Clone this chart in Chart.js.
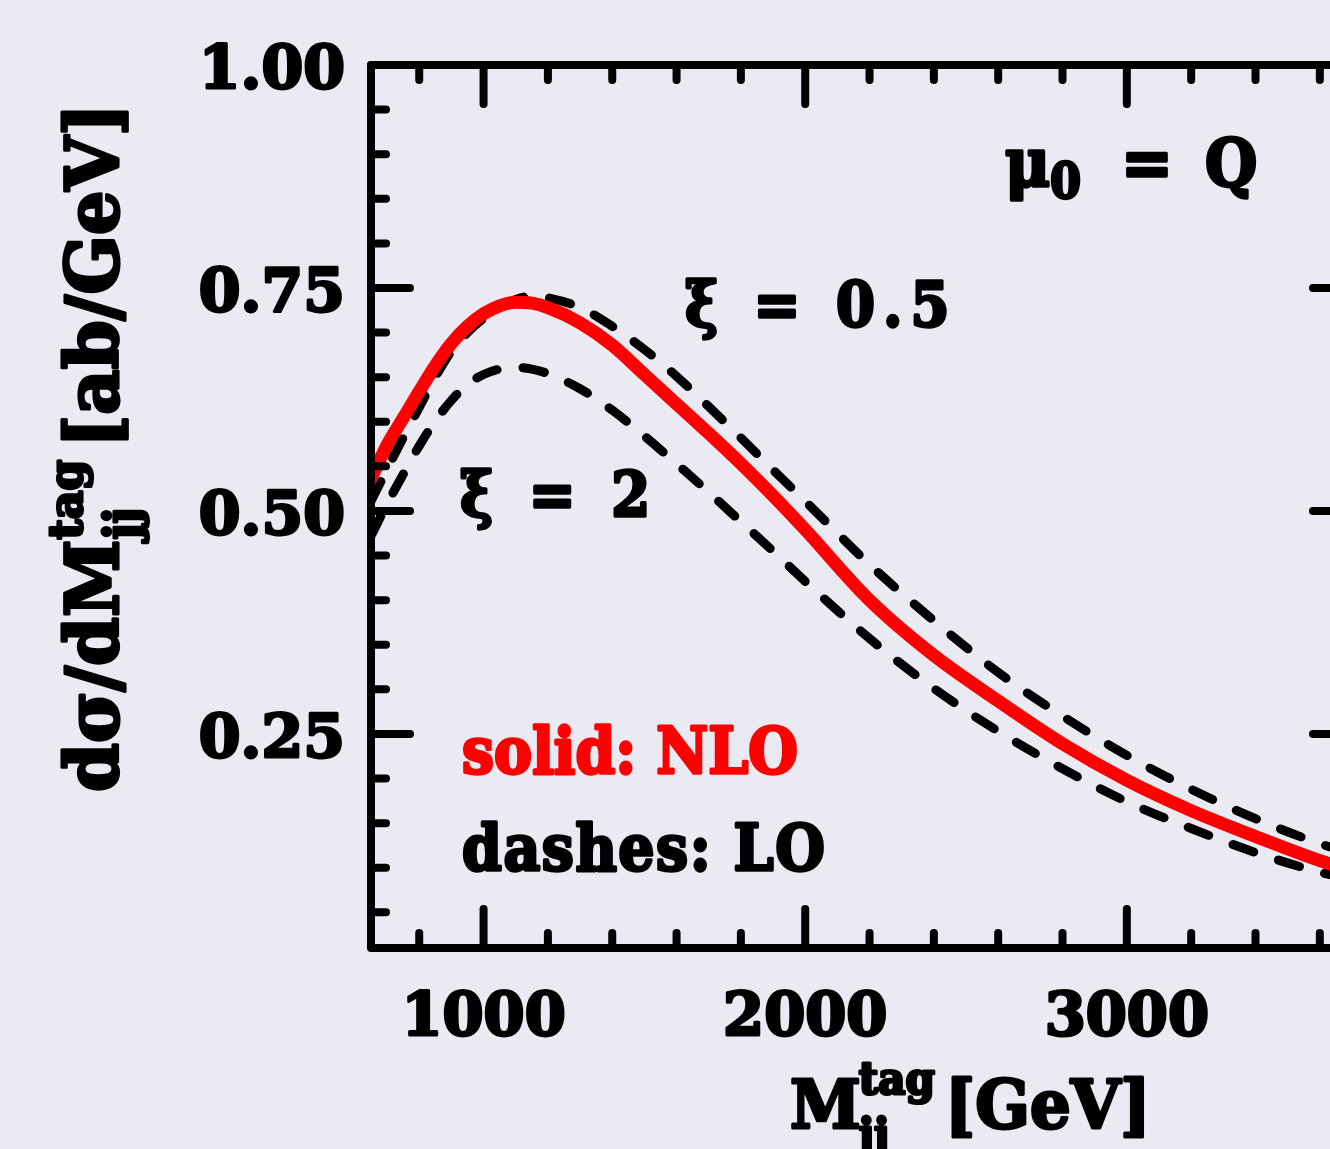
<!DOCTYPE html>
<html>
<head>
<meta charset="utf-8">
<script src="https://cdn.jsdelivr.net/npm/chart.js@4.4.1/dist/chart.umd.min.js"></script>
<style>
html, body { margin: 0; padding: 0; background: #eaeaf2; overflow: hidden; }
#wrap { position: relative; width: 1400px; height: 1149px; }
</style>
</head>
<body>
<div id="wrap"><canvas id="chart"></canvas></div>
<script>
// M_jj^tag [GeV]
const massGeV = [650, 700, 750, 800, 850, 900, 950, 1000, 1050, 1100, 1150, 1200, 1300, 1400, 1500,
    1600, 1700, 1800, 1900, 2000, 2200, 2400, 2600, 2800, 3000, 3200, 3400, 3600, 3700];

// dsigma/dM [ab/GeV]
const nloCentral = [0.536, 0.574, 0.604, 0.634, 0.663, 0.688, 0.707, 0.721, 0.730, 0.734, 0.733, 0.728, 0.711, 0.686, 0.653,
    0.620, 0.587, 0.553, 0.517, 0.479, 0.400, 0.338, 0.287, 0.239, 0.198, 0.164, 0.135, 0.108, 0.097];
const loXiHalf = [0.511, 0.547, 0.582, 0.616, 0.650, 0.679, 0.700, 0.716, 0.728, 0.737, 0.741, 0.739, 0.728, 0.707, 0.681,
    0.651, 0.617, 0.582, 0.546, 0.511, 0.440, 0.377, 0.319, 0.270, 0.226, 0.188, 0.155, 0.127, 0.116];
const loXiTwo = [0.472, 0.508, 0.541, 0.573, 0.601, 0.624, 0.642, 0.653, 0.659, 0.661, 0.659, 0.654, 0.637, 0.613, 0.584,
    0.553, 0.521, 0.488, 0.455, 0.421, 0.357, 0.301, 0.253, 0.211, 0.174, 0.144, 0.117, 0.095, 0.087];

const xTicks = [1000, 2000, 3000];
const xTickLabels = ['1000', '2000', '3000'];
const xMinorTicks = [800, 1200, 1400, 1600, 1800, 2200, 2400, 2600, 2800, 3200, 3400, 3600];
const yTicks = [0.25, 0.5, 0.75, 1.0];
const yTickLabels = ['0.25', '0.50', '0.75', '1.00'];
const yMinorTicks = [0.05, 0.10, 0.15, 0.20, 0.30, 0.35, 0.40, 0.45, 0.55, 0.60, 0.65, 0.70, 0.80, 0.85, 0.90, 0.95];

// text placed in data coordinates (left edge, baseline)
const notes = [
    { text: 'ξ = 0.5', x: 1626, y: 0.707, color: '#000', size: 56, spacing: 8 },
    { text: 'ξ = 2', x: 927, y: 0.494, color: '#000', size: 56, spacing: 8 },
    { text: 'solid: NLO', x: 933, y: 0.206, color: '#ff0000', size: 57, spacing: 0 },
    { text: 'dashes: LO', x: 933, y: 0.098, color: '#000', size: 57, spacing: 1.5 }
];

const FONT = '"DejaVu Serif", "Liberation Serif", serif';

function putText(c, str, x, y, size, opts) {
    opts = opts || {};
    c.save();
    c.translate(x, y);
    c.scale(1, opts.sy || 1.0);
    c.font = 'bold ' + size + 'px ' + FONT;
    c.letterSpacing = (opts.spacing || 0) + 'px';
    c.textAlign = opts.align || 'left';
    c.textBaseline = 'alphabetic';
    c.fillStyle = opts.color || '#000';
    c.strokeStyle = opts.color || '#000';
    c.lineWidth = opts.stroke || 3;
    c.lineJoin = 'round';
    c.strokeText(str, 0, 0);
    c.fillText(str, 0, 0);
    const w = c.measureText(str).width;
    c.restore();
    return w;
}

const framePlugin = {
    id: 'frame',
    beforeDraw(chart) {
        const c = chart.ctx;
        c.save();
        c.fillStyle = '#eaeaf2';
        c.fillRect(0, 0, chart.width, chart.height);
        c.restore();
    },
    afterDatasetsDraw(chart) {
        const c = chart.ctx;
        const a = chart.chartArea;
        const xs = chart.scales.x, ys = chart.scales.y;

        c.save();
        c.strokeStyle = '#000';
        c.lineWidth = 8;
        c.lineCap = 'round';
        c.lineJoin = 'round';
        c.strokeRect(a.left, a.top, a.right - a.left, a.bottom - a.top);

        const tick = (x1, y1, x2, y2) => {
            c.beginPath();
            c.moveTo(x1, y1);
            c.lineTo(x2, y2);
            c.stroke();
        };
        xMinorTicks.forEach(v => {
            const px = xs.getPixelForValue(v);
            tick(px, a.bottom, px, a.bottom - 15);
            tick(px, a.top, px, a.top + 15);
        });
        xTicks.forEach(v => {
            const px = xs.getPixelForValue(v);
            tick(px, a.bottom, px, a.bottom - 39);
            tick(px, a.top, px, a.top + 39);
        });
        yMinorTicks.forEach(v => {
            const py = ys.getPixelForValue(v);
            tick(a.left, py, a.left + 15, py);
            tick(a.right, py, a.right - 15, py);
        });
        yTicks.forEach(v => {
            const py = ys.getPixelForValue(v);
            tick(a.left, py, a.left + 39, py);
            tick(a.right, py, a.right - 39, py);
        });
        c.restore();

        // tick labels
        xTicks.forEach((v, i) => {
            putText(c, xTickLabels[i], xs.getPixelForValue(v), a.bottom + 87, 59, { align: 'center' });
        });
        yTicks.forEach((v, i) => {
            putText(c, yTickLabels[i], a.left - 26, ys.getPixelForValue(v) + 23, 60, { align: 'right' });
        });

        // notes inside the frame
        notes.forEach(n => {
            putText(c, n.text, xs.getPixelForValue(n.x), ys.getPixelForValue(n.y), n.size,
                { color: n.color, sy: 1.1, spacing: n.spacing });
        });

        // mu_0 = Q
        const mx = xs.getPixelForValue(2621), my = ys.getPixelForValue(0.864);
        const mw = putText(c, 'μ', mx, my, 62, { sy: 1.1 });
        putText(c, '0', mx + mw, my + 12, 44, { sy: 1.1 });
        putText(c, '=', mx + 116, my, 62, { sy: 1.1 });
        putText(c, 'Q', mx + 200, my, 60, { sy: 1.1 });

        // x axis title
        const tx = 790, ty = 1128;
        const w1 = putText(c, 'M', tx, ty, 64, { sy: 1.05 });
        putText(c, 'tag', tx + w1 - 2, ty - 34, 42, { sy: 1.05 });
        putText(c, 'jj', tx + w1 - 2, ty + 22, 42, { sy: 1.05 });
        putText(c, '[GeV]', 945, ty, 64, { sy: 1.05 });

        // y axis title, rotated
        c.save();
        c.translate(118, 792);
        c.rotate(-Math.PI / 2);
        const w2 = putText(c, 'dσ/dM', 0, 0, 70, { sy: 1.05 });
        const w3 = putText(c, 'tag', w2, -36, 44, { sy: 1.05 });
        putText(c, 'jj', w2, 20, 44, { sy: 1.05 });
        putText(c, '[ab/GeV]', w2 + w3 + 12, 0, 70, { sy: 1.05 });
        c.restore();
    }
};

const series = (vals) => massGeV.map((m, i) => ({ x: m, y: vals[i] }));

new Chart(document.getElementById('chart'), {
    type: 'line',
    data: {
        datasets: [
            {
                label: 'NLO',
                data: series(nloCentral),
                borderColor: '#ff0000',
                borderWidth: 13,
                borderCapStyle: 'round',
                borderJoinStyle: 'round',
                pointRadius: 0,
                cubicInterpolationMode: 'monotone',
                order: 0
            },
            {
                label: 'LO, xi = 0.5',
                data: series(loXiHalf),
                borderColor: '#000',
                borderWidth: 9,
                borderDash: [22, 26],
                borderCapStyle: 'round',
                pointRadius: 0,
                cubicInterpolationMode: 'monotone',
                order: 1
            },
            {
                label: 'LO, xi = 2',
                data: series(loXiTwo),
                borderColor: '#000',
                borderWidth: 9,
                borderDash: [22, 26],
                borderCapStyle: 'round',
                pointRadius: 0,
                cubicInterpolationMode: 'monotone',
                order: 2
            }
        ]
    },
    options: {
        responsive: true,
        maintainAspectRatio: false,
        animation: false,
        layout: { padding: { top: 65, right: 48, bottom: 0, left: 0 } },
        plugins: { legend: { display: false }, tooltip: { enabled: false } },
        scales: {
            x: {
                type: 'linear', min: 650, max: 3700,
                grid: { display: false }, border: { display: false }, ticks: { display: false },
                afterFit: s => { s.height = 201; }
            },
            y: {
                type: 'linear', min: 0.01, max: 1.0,
                grid: { display: false }, border: { display: false }, ticks: { display: false },
                afterFit: s => { s.width = 371; }
            }
        }
    },
    plugins: [framePlugin]
});
</script>
</body>
</html>
